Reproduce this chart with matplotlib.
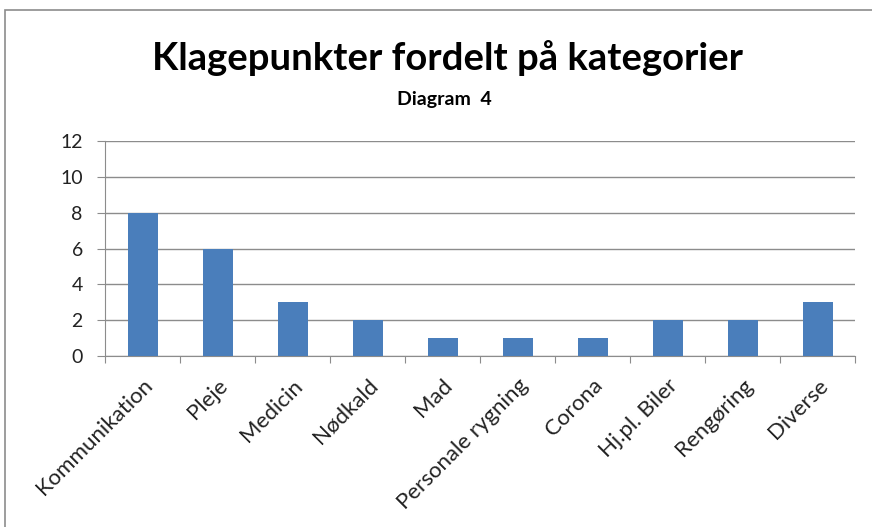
import matplotlib.pyplot as plt
import matplotlib.patches as mpatches
import numpy as np

plt.rcParams['font.family'] = ['Lato', 'DejaVu Sans']

categories = ['Kommunikation', 'Pleje', 'Medicin', 'Nødkald', 'Mad',
              'Personale rygning', 'Corona', 'Hj.pl. Biler', 'Rengøring', 'Diverse']
values = [8, 6, 3, 2, 1, 1, 1, 2, 2, 3]
yticks = [0, 2, 4, 6, 8, 10, 12]

W, H = 872, 527
fig = plt.figure(figsize=(W/100, H/100), dpi=100)
fig.patch.set_facecolor('white')

# outer chart frame (right and bottom edges run off the picture)
fig.patches.append(mpatches.Rectangle((5/W, -0.2), 1.2, 1.2-10/H, transform=fig.transFigure,
                                      fill=False, edgecolor='#8c8c8c', lw=1.2))

ax = fig.add_axes([105/W, 1-356/H, 750/W, 215/H])
x = np.arange(len(categories))
ax.bar(x, values, width=0.4, color='#4a7ebb', zorder=3)

ax.set_xlim(-0.5, len(categories)-0.5)
ax.set_ylim(0, 12)
ax.set_yticks(yticks)
ax.set_yticklabels([str(v) for v in yticks], fontsize=14, color='#222222')
ax.yaxis.grid(True, color='#8c8c8c', lw=1, zorder=0)

ax.set_xticks(np.arange(-0.5, len(categories)+0.5, 1), minor=False)
ax.set_xticklabels([])
ax.set_xticks(x, minor=True)
ax.set_xticklabels(categories, minor=True, rotation=45, ha='right',
                   rotation_mode='anchor', fontsize=16, color='#222222')
ax.tick_params(axis='x', which='minor', length=0, pad=14)
ax.tick_params(axis='x', which='major', length=5, color='#8c8c8c')
ax.tick_params(axis='y', length=6, color='#8c8c8c', pad=10)

for s in ['top', 'right']:
    ax.spines[s].set_visible(False)
for s in ['left', 'bottom']:
    ax.spines[s].set_color('#8c8c8c')

fig.text(447/W, 1-58/H, 'Klagepunkter fordelt på kategorier', ha='center', va='center',
         fontsize=27.5, fontweight='bold', color='#000000')
fig.text(444/W, 1-99/H, 'Diagram  4', ha='center', va='center',
         fontsize=14, fontweight='bold', color='#000000')

fig.savefig('out.png', dpi=100, facecolor='white')
